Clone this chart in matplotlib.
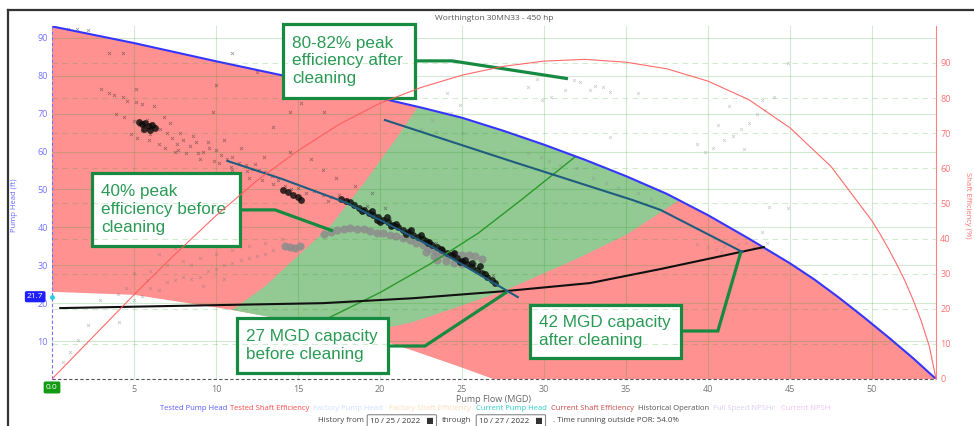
import matplotlib
matplotlib.use("Agg")
import matplotlib.pyplot as plt
from matplotlib.lines import Line2D
from matplotlib.patches import Rectangle, Polygon
import matplotlib.transforms as mtransforms

# ---------------------------------------------------------------------------
# Pump data (flow in MGD, head in ft, efficiency in %)
# ---------------------------------------------------------------------------
pump_flow = [0, 2.5, 5, 7.5, 10, 12.5, 15, 17.5, 20, 22.5, 25, 27.5, 30, 32.5, 35,
             37.5, 40, 42.5, 45, 46.5, 48, 49.5, 51, 52.5, 53.9]
pump_head = [93, 90.8, 88.6, 86.2, 83.8, 81.5, 79.2, 76.7, 74.1, 71.6, 68.9, 65.5, 61.8,
             57.8, 53.5, 48.8, 43.2, 37, 30.5, 26.2, 21.4, 16.3, 11, 5.5, 0]

eff_flow = [0, 2.5, 5, 7.5, 10, 12.5, 15, 17.5, 20, 22.5, 25, 27.5, 30, 32.5, 35, 37.5,
            40, 42.5, 45, 47.5, 50, 50.5, 51, 51.5, 52, 52.5, 53, 53.5, 53.9]
eff_pct = [0, 12, 24, 35.5, 46.5, 56.5, 65, 72.5, 78.5, 83, 86.5, 89, 90.5, 91, 90.2, 88.3,
           84.8, 79.5, 71.5, 60.5, 45, 41.2, 37.1, 32.7, 28, 22.6, 16.5, 9.2, 0]

# lower edge of the operating envelope
floor_flow = [0, 5, 11, 15, 19.2, 22, 25, 26.9, 53.9]
floor_head = [23, 22.2, 18.2, 15, 11.4, 7.5, 3, 0, 0]

# preferred operating region (POR) edges
por_left_flow = [11, 13, 15, 17, 19, 21, 22.3]
por_left_head = [18.2, 24.5, 32.5, 40.5, 51.5, 63.5, 71.7]
por_right_flow = [38.3, 35, 32, 30, 27.7, 25, 22, 20.6, 19.2]
por_right_head = [47.3, 38, 31.7, 27.9, 23.5, 19.4, 15, 13.7, 11.4]

# current pump head, before and after cleaning
before_flow = [10.7, 14, 18, 23.2, 28.4]
before_head = [57.5, 52.8, 46.4, 34.8, 21.6]
after_flow = [20.3, 28.1, 35.4, 37.1, 42.1]
after_head = [68.3, 57.3, 47.2, 44.6, 33.5]

# system curve
system_flow = [0.5, 9, 16.5, 22, 27.7, 32.8, 37.1, 43.4]
system_head = [18.7, 19.4, 20, 21.3, 23.2, 25.3, 29, 34.8]

# best-efficiency affinity line
bep_flow = [12, 14, 17, 20, 23, 26, 28.6, 31.9]
bep_head = [8.2, 11.2, 16.4, 22.8, 30.2, 38.5, 47.2, 58.6]

# historical operation: scattered readings
hist_flow = [
    1.0, 1.5, 2.2, 3.5, 4.3, 11.0, 10.0, 12.5, 3.0, 3.5, 3.8, 4.3, 4.6, 5.1, 5.5, 5.1,
    4.4, 3.9, 6.2, 6.8, 7.2, 7.8, 8.6, 9.5, 9.8, 13.5, 12.9, 11.5, 10.5, 14.5, 15.2,
    14.5, 16.6, 15.8, 16.5, 17.3, 18.5, 19.5, 20.3,
    5.0, 5.3, 5.6, 5.8, 6.1, 6.3, 5.5, 6.0, 6.6, 7.0, 5.2, 4.8, 5.9, 6.5, 7.3, 7.6,
    8.0, 8.4, 8.8, 9.2, 9.6, 10.0, 10.3, 10.7, 11.0, 11.4, 11.8, 12.2, 12.6, 13.0,
    13.4, 13.8, 12.0, 11.0, 10.2, 9.0, 8.2, 7.5, 14.2, 14.6, 15.0, 15.5, 16.0, 16.5,
    17.0, 17.5, 18.0, 18.5, 16.8, 13.5, 12.8, 6.9, 7.7, 8.9, 9.9, 10.9, 11.9, 12.4,
    19.2, 20.6, 21.8, 23.4, 24.6, 25.8, 26.9,
]
hist_head = [
    92.3, 92.3, 92, 86, 86, 86, 77.5, 81, 76.5, 75.4, 75, 74.5, 73.3, 73, 72.5, 76.5,
    69, 70, 72, 69, 67.5, 65, 64, 62.5, 70.5, 66.5, 58.5, 61, 63, 70.5, 72.8,
    60, 70.5, 58, 55, 53, 51, 49, 45,
    68, 67, 66.5, 68.3, 67.5, 66.8, 65.5, 64.5, 66, 65, 63.5, 64.5, 63, 62, 63.5, 62,
    63, 61.5, 62.5, 60, 61, 60.5, 59, 58, 58.5, 57, 56.5, 55.5, 55, 54.5,
    53.5, 52.5, 53, 55, 57, 58, 59.5, 60, 51, 50, 50.5, 49, 49.5, 48.5,
    48, 48.5, 47.5, 46.5, 47, 51.5, 52.5, 61, 60.5, 59.5, 57.5, 56, 54.8, 56.8,
    45.6, 42.3, 39.5, 36, 33.5, 30.2, 27.5,
]

# historical operation: dense smear of recent readings
dense_flow = [
    5.3, 5.5, 5.7, 5.9, 6.1, 6.3, 5.6, 6.0,
    14.1, 14.4, 14.7, 15.0, 15.2, 17.6, 17.9, 18.2,
    18.4, 18.7, 19.0, 19.3, 19.6, 19.9, 20.2, 20.5, 20.8, 21.1, 21.4, 21.7, 22.0, 22.3,
    22.6, 22.9, 23.2, 23.5, 23.8, 24.1, 24.4, 24.7, 25.0, 25.3, 25.6, 25.9, 26.2, 26.5,
    26.8, 27.0, 19.5, 20.4, 21.0, 21.9, 24.5, 25.6, 26.1, 20.0, 22.5, 23.0,
    18.9, 19.8, 20.7, 21.6, 22.8, 23.7, 24.9, 25.2, 26.4,
]
dense_head = [
    67.8, 67.2, 67.6, 66.8, 67.0, 66.3, 65.9, 65.7,
    49.8, 49.2, 48.5, 47.9, 47.3, 47.6, 47.0, 46.6,
    45.8, 45.2, 44.6, 43.9, 43.3, 42.7, 42.0, 41.4, 40.6, 40.0, 39.4, 38.8, 38.1, 37.4,
    36.8, 36.0, 35.3, 34.7, 34.0, 33.3, 32.6, 31.9, 31.1, 30.4, 29.6, 28.8, 28.0, 27.0,
    26.0, 25.2, 44.4, 42.6, 41.0, 39.3, 33.3, 30.6, 29.8, 41.5, 37.9, 36.2,
    44.2, 42.0, 40.3, 38.3, 36.3, 34.2, 30.8, 31.4, 27.8,
]

# older readings (lighter)
old_flow = [
    0.7, 1.1, 1.6, 2.2, 2.9, 4.1, 5.0, 5.0, 5.5, 6.0, 6.5, 7.0, 7.5, 8.0, 8.5, 9.0,
    9.5, 10.0, 10.5, 11.0, 11.5, 12.0, 12.5, 13.0, 13.5, 6.0, 7.0, 8.0, 9.0, 10.0,
    6.5, 7.5, 8.5, 5.8, 4.5, 4.0, 11.0, 12.0, 13.0, 14.0, 10.5, 9.2,
]
old_head = [
    4.5, 7.1, 10.3, 14.2, 20.8, 15, 28, 20.8, 22, 24, 23.5, 25.5, 26, 27, 26.5, 27,
    28.5, 29, 30, 30.5, 31.5, 32, 32.5, 33, 34, 28.5, 30, 31, 32, 33,
    33, 34.5, 30, 26, 24, 22.5, 34, 35, 36, 37, 26.5, 24.5,
]
old_dense_flow = [
    14.2, 14.5, 14.8, 15.1, 16.6, 17.0, 17.4, 17.8, 18.2, 18.6, 19.0, 19.4, 19.8, 20.2,
    20.6, 21.0, 21.4, 21.8, 22.2, 22.6, 23.0, 23.4, 23.8, 24.2, 24.6, 25.0, 25.4, 25.8,
    26.2, 23.5, 24.0, 24.5, 25.0, 25.5, 23.3, 22.8,
]
old_dense_head = [
    35.2, 34.8, 34.6, 35.0, 38.3, 38.8, 39.2, 39.6, 39.8, 39.5, 39.6, 39.0, 38.6, 38.4,
    38.0, 37.6, 37.1, 36.6, 36.0, 35.4, 34.3, 33.6, 33.0, 32.8, 33.0, 32.6, 32.8, 32.4,
    31.6, 31.5, 31.0, 30.5, 30.2, 30.0, 32.5, 33.6,
]

# readings after cleaning
new_flow = [
    23.2, 24.3, 25.0, 22.5, 23.4, 24.1, 24.9, 27.5, 29.0, 29.8, 30.3, 32.0, 33.0, 33.8,
    35.7, 36.5, 31.0, 34.5, 29.0, 29.6, 29.9, 30.4, 31.3, 31.8, 32.2, 32.8, 33.1, 33.6,
    34.0, 35.7, 34.0, 24.1, 39.3, 39.8, 40.3, 41.0, 41.5, 42.0, 42.5, 43.0, 43.5, 42.2,
    43.3, 44.0, 44.9, 41.3, 40.6, 43.7, 44.9, 43.3, 39.3, 40.0, 40.5, 41.0, 41.8, 42.3,
    42.8, 43.2, 43.6, 40.8, 42.0,
]
new_head = [
    68.3, 70.2, 64.9, 66, 65.2, 75.5, 72.3, 60, 59.6, 58.6, 57.5, 55.7, 53, 51.7,
    49, 47.5, 56.5, 50.5, 77, 79, 73.6, 74.4, 76.2, 78.9, 78.4, 76.2, 77.3, 77,
    75.7, 75.5, 63.8, 70.2, 62, 60, 61, 63, 64, 66, 67.5, 70, 71, 60.6,
    73.5, 74.5, 83.4, 72, 67, 45.4, 45.1, 38.8, 35.5, 34.7, 34.3, 35, 35.5, 36,
    35, 34.5, 36, 33.5, 33.8,
]

left_ticks = [10, 20, 30, 40, 50, 60, 70, 80, 90]
right_ticks = [0, 10, 20, 30, 40, 50, 60, 70, 80, 90]
flow_ticks = [5, 10, 15, 20, 25, 30, 35, 40, 45, 50]
current_head_marker = 21.7

legend_items = [
    ("Tested Pump Head", "#5a5aff"),
    ("Tested Shaft Efficiency", "#ff4a4a"),
    ("Factory Pump Head", "#cfe0ff"),
    ("Factory Shaft Efficiency", "#ffdcb8"),
    ("Current Pump Head", "#2ccfd0"),
    ("Current Shaft Efficiency", "#c84848"),
    ("Historical Operation", "#555555"),
    ("Full Speed NPSHr", "#dccdf3"),
    ("Current NPSH", "#ecc6f3"),
]
legend_x_px = [160, 230, 313, 389, 476, 551, 638, 713, 781]

notes = [
    "80-82% peak\nefficiency after\ncleaning",
    "40% peak\nefficiency before\ncleaning",
    "27 MGD capacity\nbefore cleaning",
    "42 MGD capacity\nafter cleaning",
]

# ---------------------------------------------------------------------------
# Figure
# ---------------------------------------------------------------------------
W, H = 974, 426
fig = plt.figure(figsize=(W / 100, H / 100), dpi=100)
fig.patch.set_facecolor("white")
ui_font = ["Open Sans", "DejaVu Sans"]
note_font = "Liberation Sans"

ax = fig.add_axes([52 / W, 1 - 379 / H, 884 / W, 353 / H])
ax2 = ax.twinx()
ax.set_xlim(0, 53.9)
ax.set_ylim(0, 93.1)
ax2.set_ylim(0, 100.5)

# grid
grid_c = (0.1, 0.62, 0.1, 0.2)
for x in flow_ticks:
    ax.axvline(x, color=grid_c, lw=0.8, zorder=1.5)
for y in left_ticks:
    ax.axhline(y, color=grid_c, lw=0.8, zorder=1.5)
for y in right_ticks[1:]:
    ax2.axhline(y, color=grid_c, lw=0.8, ls=(0, (5, 4)), zorder=1.5)

# operating envelope (red) and POR (green)
red_pts = list(zip(pump_flow, pump_head)) + list(zip(floor_flow[::-1], floor_head[::-1]))
ax.add_patch(Polygon(red_pts, closed=True, fc="#ff9191", ec="none", zorder=1))
green_pts = (list(zip(por_left_flow, por_left_head))
             + [(f, h) for f, h in zip(pump_flow, pump_head) if 22.3 < f < 38.3]
             + list(zip(por_right_flow, por_right_head))
             + [(f, h) for f, h in zip(floor_flow[::-1], floor_head[::-1]) if 11 < f < 19.2])
ax.add_patch(Polygon(green_pts, closed=True, fc="#93c993", ec="none", zorder=1.1))

# curves
ax.plot(pump_flow, pump_head, color="#3535ff", lw=1.5, zorder=4)
ax2.plot(eff_flow, eff_pct, color="#ff5a5a", lw=0.8, alpha=0.9, zorder=4)
ax.plot(bep_flow, bep_head, color="#2a9a2a", lw=1.0, zorder=3)
ax.plot(system_flow, system_head, color="#111111", lw=1.5, zorder=4)
ax.plot(before_flow, before_head, color="#1f5c80", lw=1.5, zorder=4)
ax.plot(after_flow, after_head, color="#1f5c80", lw=1.5, zorder=4)

# historical operation
ax.scatter(old_flow, old_head, marker="x", s=5, lw=0.5, color="#777777", alpha=0.45, zorder=2.5)
ax.scatter(old_dense_flow, old_dense_head, marker="o", s=34, lw=0, color="#8c8c8c", alpha=0.85,
           zorder=2.6)
ax.scatter(new_flow, new_head, marker="x", s=5, lw=0.5, color="#8a8a8a", alpha=0.45, zorder=2.5)
ax.scatter(hist_flow, hist_head, marker="x", s=5, lw=0.55, color="#2a2a2a", alpha=0.45, zorder=2.7)
ax.scatter(dense_flow, dense_head, marker="o", s=24, lw=0, color="#0a0a0a", alpha=0.8, zorder=2.8)

# axes styling
for a in (ax, ax2):
    for side in ("top", "left", "right", "bottom"):
        a.spines[side].set_visible(False)
ax.plot([0, 0], [0, 93.1], color="#7070ff", lw=0.8, ls=(0, (3, 2)), zorder=5, clip_on=False)
ax.plot([0, 53.9], [0, 0], color="#555555", lw=0.8, ls=(0, (3, 2)), zorder=5, clip_on=False)
ax2.plot([53.9, 53.9], [0, 100.5], color="#ff8080", lw=0.8, zorder=5, clip_on=False)

ax.set_xticks(flow_ticks)
ax.set_yticks(left_ticks)
ax2.set_yticks(right_ticks)
ax.tick_params(axis="x", length=0, pad=4, labelsize=6.5, labelcolor="#777777")
ax.tick_params(axis="y", length=0, pad=3, labelsize=6.5, labelcolor="#7474ff")
ax2.tick_params(axis="y", length=0, pad=3, labelsize=6.5, labelcolor="#ff7070")
for lbl in ax.get_xticklabels() + ax.get_yticklabels() + ax2.get_yticklabels():
    lbl.set_family(ui_font)

ax.set_xlabel("Pump Flow (MGD)", fontsize=6.5, color="#666666", family=ui_font, labelpad=1)
fig.text(15 / W, 1 - 205 / H, "Pump Head (ft)", rotation=90, fontsize=5.5, color="#6a6aff",
         ha="center", va="center", family=ui_font)
fig.text(968 / W, 1 - 205 / H, "Shaft Efficiency (%)", rotation=270, fontsize=5.5, color="#ff7070",
         ha="center", va="center", family=ui_font)
fig.text(494 / W, 1 - 18 / H, "Worthington 30MN33 - 450 hp", fontsize=6, color="#555555",
         ha="center", va="center", family=ui_font)

# current head / flow badges
yblend = mtransforms.blended_transform_factory(ax.transAxes, ax.transData)
ax.text(-0.019, current_head_marker, f"{current_head_marker:.1f}", transform=yblend, ha="center",
        va="center", fontsize=6, color="white", family=ui_font, zorder=10, clip_on=False,
        bbox=dict(boxstyle="round,pad=0.25,rounding_size=0.2", fc="#1f1fff", ec="none"))
ax.scatter([0], [current_head_marker], s=6, color="#22d0e0", zorder=10, clip_on=False)
xblend = mtransforms.blended_transform_factory(ax.transData, ax.transAxes)
ax.text(0, -0.024, "0.0", transform=xblend, ha="center", va="center", fontsize=6,
        color="white", family=ui_font, zorder=10, clip_on=False,
        bbox=dict(boxstyle="round,pad=0.3,rounding_size=0.2", fc="#129a12", ec="none"))

# annotation boxes: (left, top, right, bottom) in data units, connector path
note_green = "#178a42"
note_boxes = [
    (14.09, 93.7, 22.13, 74.1),
    (2.44, 54.35, 11.46, 35.1),
    (11.28, 16.1, 20.49, 1.6),
    (29.15, 19.5, 38.35, 5.5),
]
note_links = [
    [(22.13, 83.9), (24.39, 83.9), (31.46, 79.2)],
    [(11.46, 44.6), (13.6, 44.6), (17.13, 39.05)],
    [(20.49, 8.7), (22.74, 8.7), (27.74, 22.96)],
    [(38.35, 12.66), (40.6, 12.66), (42.0, 33.5)],
]
for text, (l, t, r, b), link in zip(notes, note_boxes, note_links):
    ax.add_patch(Rectangle((l, b), r - l, t - b, fc="white", ec=note_green, lw=2.3,
                           zorder=11, clip_on=False))
    ax.text(l + 0.55, (t + b) / 2, text, ha="left", va="center", fontsize=12.3,
            color="#2a9a55", family=note_font, linespacing=1.22, zorder=12, clip_on=False)
    xs, ys = zip(*link)
    ax.plot(xs, ys, color=note_green, lw=2.3, zorder=11, clip_on=False,
            solid_capstyle="butt", solid_joinstyle="miter")

# legend row
for (name, color), xp in zip(legend_items, legend_x_px):
    fig.text(xp / W, 1 - 409 / H, name, fontsize=5.5, color=color, ha="left", va="center",
             family=ui_font)

# history controls
row_y = 1 - 421 / H
date_box = dict(boxstyle="round,pad=0.35,rounding_size=0.15", fc="white", ec="#888888", lw=0.8)
fig.text(318 / W, row_y, "History from", fontsize=5.7, color="#444444", va="center",
         family=ui_font)
fig.text(370 / W, row_y, "10 / 25 / 2022   \u25a0", fontsize=5.7, color="#333333", va="center",
         family=ui_font, bbox=date_box)
fig.text(442 / W, row_y, "through", fontsize=5.7, color="#444444", va="center", family=ui_font)
fig.text(479 / W, row_y, "10 / 27 / 2022   \u25a0", fontsize=5.7, color="#333333", va="center",
         family=ui_font, bbox=date_box)
fig.text(553 / W, row_y, ". Time running outside POR: 54.0%", fontsize=5.7, color="#444444",
         va="center", family=ui_font)

# panel frame
fig.add_artist(Line2D([8 / W, 1], [1 - 10 / H, 1 - 10 / H], color="#333333", lw=1.6))
fig.add_artist(Line2D([8 / W, 8 / W], [0, 1 - 10 / H], color="#333333", lw=1.6))

fig.savefig("out.png", dpi=100, facecolor="white")
